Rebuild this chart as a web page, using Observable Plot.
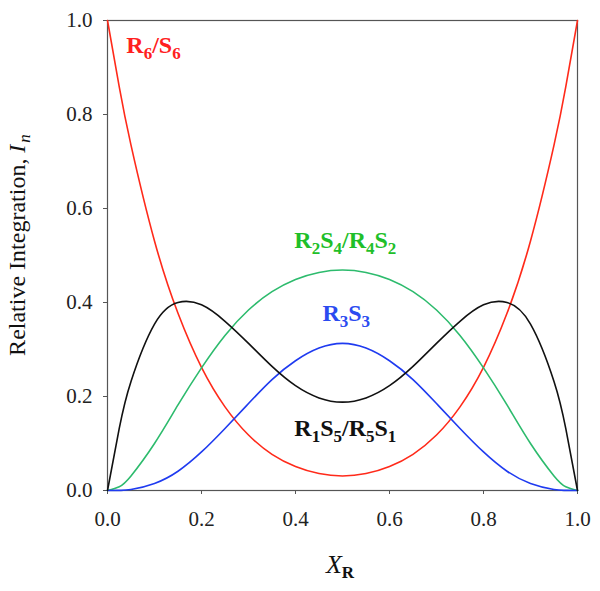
<!DOCTYPE html>
<html><head><meta charset="utf-8">
<script src="https://cdn.jsdelivr.net/npm/d3@7"></script>
<script src="https://cdn.jsdelivr.net/npm/@observablehq/plot@0.6"></script>
<style>body{margin:0;background:#fff} svg text{font-family:"Liberation Serif","Times New Roman",serif}</style>
</head><body><div id="chart"></div>
<script>
const xR = [0,0.025,0.05,0.1,0.15,0.2,0.25,0.3,0.35,0.4,0.45,0.5,0.55,0.6,0.65,0.7,0.75,0.8,0.85,0.9,0.95,0.975,1];
const r6s6 = [1,0.859,0.735,0.531,0.377,0.262,0.178,0.118,0.077,0.051,0.036,0.031,0.036,0.051,0.077,0.118,0.178,0.262,0.377,0.531,0.735,0.859,1];
const r2s4 = [0,0.008,0.031,0.100,0.182,0.261,0.330,0.384,0.423,0.449,0.464,0.469,0.464,0.449,0.423,0.384,0.330,0.261,0.182,0.100,0.031,0.008,0];
const r3s3 = [0,0.0003,0.002,0.015,0.041,0.082,0.132,0.185,0.236,0.276,0.303,0.313,0.303,0.276,0.236,0.185,0.132,0.082,0.041,0.015,0.002,0.0003,0];
const r1s5 = [0,0.132,0.232,0.354,0.400,0.395,0.360,0.313,0.264,0.223,0.197,0.188,0.197,0.223,0.264,0.313,0.360,0.395,0.400,0.354,0.232,0.132,0];
const seriesNames = ["R6/S6","R2S4/R4S2","R3S3","R1S5/R5S1"];
const lineColors = ["#ff2a1a","#2dbb6d","#1f3bf0","#111111"];
const labelColors = ["#ff2020","#1fbf2a","#2b4bf0","#111111"];
const labelX = [0.04,0.506,0.508,0.506];
const labelY = [0.948,0.532,0.377,0.132];
const labelAnchor = ["start","middle","middle","middle"];
const ticks = [0,0.2,0.4,0.6,0.8,1.0];

const seriesVals = [r6s6,r2s4,r3s3,r1s5];
const rows = [];
seriesNames.forEach((s,i)=>xR.forEach((x,j)=>rows.push({s, x, y: seriesVals[i][j]})));
const labels = seriesNames.map((s,i)=>({s, x:labelX[i], y:labelY[i], anchor:labelAnchor[i], c:labelColors[i]}));

const svg = Plot.plot({
  width:600, height:591,
  marginLeft:107, marginRight:23, marginTop:20, marginBottom:101,
  style:{fontFamily:"'Liberation Serif', 'Times New Roman', serif", fontSize:"20px", color:"#222", background:"#fff"},
  x:{domain:[0,1]},
  y:{domain:[0,1]},
  color:{domain:seriesNames, range:lineColors},
  marks:[
    Plot.frame({stroke:"#555", strokeWidth:1.2}),
    Plot.axisX({ticks, tickFormat:d=>d.toFixed(1), tickSize:4, tickPadding:17, label:null, stroke:"#555", fill:"#222", fontSize:21}),
    Plot.axisY({ticks, tickFormat:d=>d.toFixed(1), tickSize:4, tickPadding:11, label:null, stroke:"#555", fill:"#222", fontSize:21}),
    Plot.line(rows, {x:"x", y:"y", z:"s", stroke:"s", curve:"natural", strokeWidth:1.6}),
    Plot.text(labels.filter(d=>d.anchor==="start"), {x:"x", y:"y", text:"s", fill:"c", textAnchor:"start", fontWeight:"bold", fontSize:24, className:"lbl"}),
    Plot.text(labels.filter(d=>d.anchor!=="start"), {x:"x", y:"y", text:"s", fill:"c", textAnchor:"middle", fontWeight:"bold", fontSize:24, className:"lbl"})
  ]
});

// subscripts for digits in labels
svg.querySelectorAll(".lbl text").forEach(t=>{
  const str = t.textContent;
  while (t.firstChild) t.removeChild(t.firstChild);
  const ns = "http://www.w3.org/2000/svg";
  let sub = false;
  for (const ch of str) {
    const isD = /[0-9]/.test(ch);
    const sp = document.createElementNS(ns, "tspan");
    sp.textContent = ch;
    if (isD && !sub) { sp.setAttribute("dy","6"); sp.setAttribute("font-size","17"); sub = true; }
    else if (isD) { sp.setAttribute("font-size","17"); }
    else if (!isD && sub) { sp.setAttribute("dy","-6"); sub = false; }
    t.appendChild(sp);
  }
});

const s = d3.select(svg);
const yt = s.append("text")
  .attr("transform","translate(25,245) rotate(-90)")
  .attr("text-anchor","middle")
  .attr("font-size",24).attr("fill","#111");
yt.append("tspan").text("Relative Integration, ");
yt.append("tspan").attr("font-style","italic").text("I");
yt.append("tspan").attr("font-style","italic").attr("font-size",17).attr("dy",5).attr("dx",2).text("n");

const xt = s.append("text")
  .attr("x",340).attr("y",573)
  .attr("text-anchor","middle")
  .attr("font-size",26).attr("fill","#111");
xt.append("tspan").attr("font-style","italic").text("X");
xt.append("tspan").attr("font-weight","bold").attr("font-size",17).attr("dy",5).text("R");

document.getElementById("chart").appendChild(svg);
</script>
</body></html>
